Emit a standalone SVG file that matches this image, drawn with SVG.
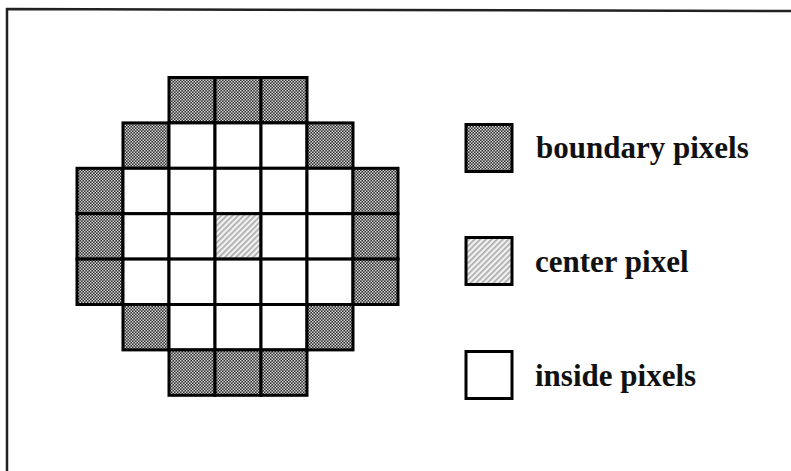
<svg xmlns="http://www.w3.org/2000/svg" width="791" height="471" viewBox="0 0 791 471">
<defs>
<pattern id="dots" width="3" height="3" patternUnits="userSpaceOnUse">
<rect width="3" height="3" fill="#2a2a2a"/>
<rect x="0" y="0" width="1.5" height="1.5" fill="#d8d8d8"/>
<rect x="1.5" y="1.5" width="1.5" height="1.5" fill="#d8d8d8"/>
</pattern>
<pattern id="hatch" width="4" height="4" patternUnits="userSpaceOnUse" patternTransform="rotate(45)">
<rect width="4" height="4" fill="#f2f2f2"/>
<rect x="0" y="0" width="1.6" height="4" fill="#a8a8a8"/>
</pattern>
<style>
.cell{stroke:#000;stroke-width:3}
.b{fill:url(#dots)}
.c{fill:url(#hatch)}
.i{fill:#fff}
.lbl{font-family:"Liberation Serif","Times New Roman",serif;font-weight:bold;font-size:31px;fill:#111}
.frame{stroke:#222;stroke-width:2.5;fill:none}
</style>
</defs>
<rect width="791" height="471" fill="#fff"/>
<path class="frame" d="M7,471 L7,9 L791,11"/>
<g id="grid">
<!-- row 0 -->
<rect class="cell b" x="169" y="77.5" width="46" height="45.4"/>
<rect class="cell b" x="215" y="77.5" width="46" height="45.4"/>
<rect class="cell b" x="261" y="77.5" width="46" height="45.4"/>
<!-- row 1 -->
<rect class="cell b" x="123" y="122.9" width="46" height="45.4"/>
<rect class="cell i" x="169" y="122.9" width="46" height="45.4"/>
<rect class="cell i" x="215" y="122.9" width="46" height="45.4"/>
<rect class="cell i" x="261" y="122.9" width="46" height="45.4"/>
<rect class="cell b" x="307" y="122.9" width="46" height="45.4"/>
<!-- row 2 -->
<rect class="cell b" x="77" y="168.3" width="46" height="45.4"/>
<rect class="cell i" x="123" y="168.3" width="46" height="45.4"/>
<rect class="cell i" x="169" y="168.3" width="46" height="45.4"/>
<rect class="cell i" x="215" y="168.3" width="46" height="45.4"/>
<rect class="cell i" x="261" y="168.3" width="46" height="45.4"/>
<rect class="cell i" x="307" y="168.3" width="46" height="45.4"/>
<rect class="cell b" x="353" y="168.3" width="45" height="45.4"/>
<!-- row 3 -->
<rect class="cell b" x="77" y="213.7" width="46" height="45.4"/>
<rect class="cell i" x="123" y="213.7" width="46" height="45.4"/>
<rect class="cell i" x="169" y="213.7" width="46" height="45.4"/>
<rect class="cell c" x="215" y="213.7" width="46" height="45.4"/>
<rect class="cell i" x="261" y="213.7" width="46" height="45.4"/>
<rect class="cell i" x="307" y="213.7" width="46" height="45.4"/>
<rect class="cell b" x="353" y="213.7" width="45" height="45.4"/>
<!-- row 4 -->
<rect class="cell b" x="77" y="259.1" width="46" height="45.4"/>
<rect class="cell i" x="123" y="259.1" width="46" height="45.4"/>
<rect class="cell i" x="169" y="259.1" width="46" height="45.4"/>
<rect class="cell i" x="215" y="259.1" width="46" height="45.4"/>
<rect class="cell i" x="261" y="259.1" width="46" height="45.4"/>
<rect class="cell i" x="307" y="259.1" width="46" height="45.4"/>
<rect class="cell b" x="353" y="259.1" width="45" height="45.4"/>
<!-- row 5 -->
<rect class="cell b" x="123" y="304.5" width="46" height="45.4"/>
<rect class="cell i" x="169" y="304.5" width="46" height="45.4"/>
<rect class="cell i" x="215" y="304.5" width="46" height="45.4"/>
<rect class="cell i" x="261" y="304.5" width="46" height="45.4"/>
<rect class="cell b" x="307" y="304.5" width="46" height="45.4"/>
<!-- row 6 -->
<rect class="cell b" x="169" y="349.9" width="46" height="45.4"/>
<rect class="cell b" x="215" y="349.9" width="46" height="45.4"/>
<rect class="cell b" x="261" y="349.9" width="46" height="45.4"/>
</g>
<g id="legend-boundary">
<rect class="cell b" x="466" y="124.5" width="46" height="47"/>
<text class="lbl" x="536" y="158">boundary pixels</text>
</g>
<g id="legend-center">
<rect class="cell c" x="466" y="237.5" width="46" height="47"/>
<text class="lbl" x="535" y="272">center pixel</text>
</g>
<g id="legend-inside">
<rect class="cell i" x="466" y="351.5" width="46" height="47"/>
<text class="lbl" x="535" y="386">inside pixels</text>
</g>
</svg>
